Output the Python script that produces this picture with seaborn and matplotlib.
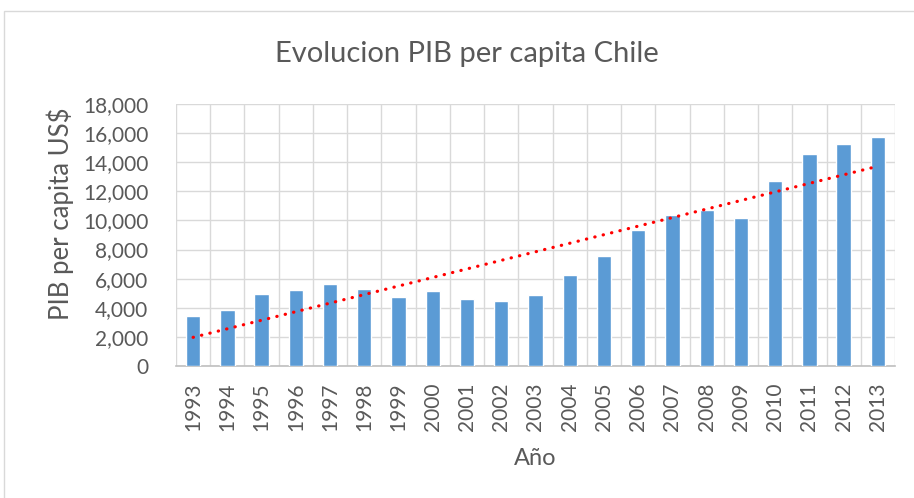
import numpy as np
import pandas as pd
import seaborn as sns
import matplotlib.pyplot as plt
from matplotlib.patches import Rectangle

# datos
years = [str(y) for y in range(1993, 2014)]
pib = [3420, 3850, 4930, 5190, 5600, 5270, 4770, 5140, 4610, 4500, 4860,
       6240, 7590, 9350, 10360, 10690, 10160, 12680, 14540, 15270, 15750]
yticks = [0, 2000, 4000, 6000, 8000, 10000, 12000, 14000, 16000, 18000]

df = pd.DataFrame({'Año': years, 'PIB': pib})

sns.set_style('white')
plt.rcParams['font.family'] = ['Lato', 'DejaVu Sans']
txt = '#595959'
grid = '#d9d9d9'

fig = plt.figure(figsize=(9.14, 4.98), dpi=100)
ax = fig.add_axes([176 / 914, 1 - 366 / 498, (895 - 176) / 914, (366 - 104) / 498])

sns.barplot(data=df, x='Año', y='PIB', color='#5b9bd5', width=0.42,
            saturation=1, ax=ax, zorder=3)

# linea de tendencia lineal
xs = np.arange(len(pib))
m, b = np.polyfit(xs, pib, 1)
ax.plot(xs, m * xs + b, color='#ff0000', linewidth=2.3,
        linestyle=(0, (0.1, 2.6)), dash_capstyle='round', zorder=4)

ax.set_xlim(-0.5, len(pib) - 0.5)
ax.set_ylim(0, 18000)
ax.set_yticks(yticks)
ax.set_yticklabels([f'{v:,}' for v in yticks])
ax.set_xticks(xs)
ax.set_xticks(np.arange(-0.5, len(pib), 1), minor=True)
ax.tick_params(axis='x', which='both', length=0, pad=12, labelsize=15,
               colors=txt, rotation=90)
ax.tick_params(axis='y', length=0, pad=20, labelsize=15, colors=txt)
ax.grid(axis='y', which='major', color=grid, linewidth=1)
ax.grid(axis='x', which='minor', color=grid, linewidth=1)
ax.set_axisbelow(True)
for s in ['top', 'right', 'left']:
    ax.spines[s].set_visible(False)
ax.spines['bottom'].set_color('#bfbfbf')
ax.spines['bottom'].set_linewidth(1.2)

ax.set_xlabel('')
ax.set_ylabel('')
fig.text(535 / 914, 1 - 458 / 498, 'Año', ha='center', va='center',
         fontsize=17, color=txt)
fig.text(60 / 914, 1 - 214 / 498, 'PIB per capita US$', ha='center',
         va='center', rotation=90, fontsize=18.5, color=txt)
fig.text(467 / 914, 1 - 54 / 498, 'Evolucion PIB per capita Chile',
         ha='center', va='center', fontsize=21, color=txt)

# borde del area del grafico
fig.patches.append(Rectangle((4 / 914, -0.02), 1.5, 1 - 11 / 498 + 0.02,
                             transform=fig.transFigure, fill=False,
                             edgecolor=grid, linewidth=1))

fig.savefig('out.png', dpi=100)
